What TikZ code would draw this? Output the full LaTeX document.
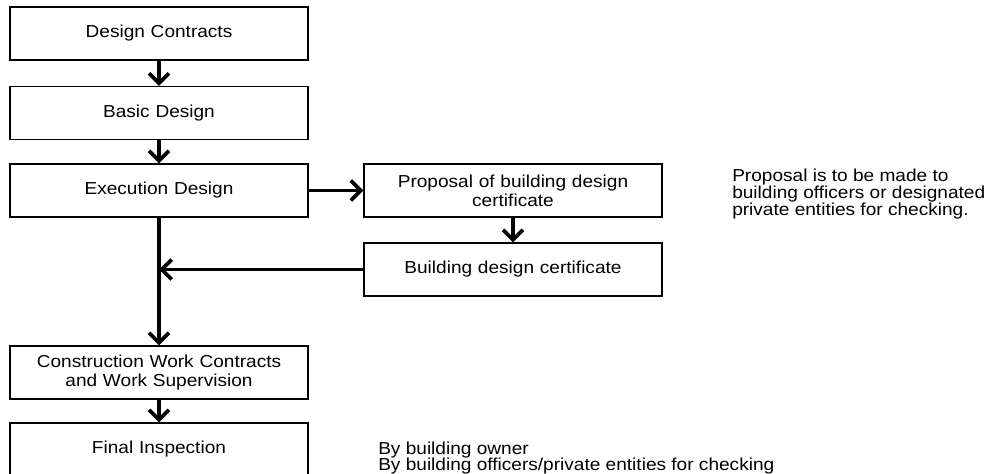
\documentclass[tikz,border=0pt]{standalone}
\usepackage{fontspec}
\setmainfont{Liberation Sans}[FakeStretch=1.1]
\usetikzlibrary{arrows.meta}
\newcommand{\tightlines}{\lineskiplimit=-20pt\relax}

\begin{document}
\begin{tikzpicture}[x=0.75pt,y=0.75pt,yscale=-1,xscale=1,
    stagebox/.style={draw, line width=0.8pt, minimum width=223.5pt, minimum height=39.75pt, inner sep=0pt, text width=215pt, align=center, font=\fontsize{13}{14.5}\selectfont\tightlines},
    notetext/.style={anchor=west, inner sep=0pt, align=left, font=\fontsize{13}{12.5}\selectfont\tightlines},
    flow/.style={line width=2.8pt, -{Straight Barb[length=7.5pt,width=15pt]}}]
    %set diagram frame: 991 x 474
    \useasboundingbox (0,0) rectangle (991,474);

    % Text Node
    \node [stagebox] (dc) at (159,33.5) {Design Contracts};
    % Text Node
    \node [stagebox] (bd) at (159,113) {Basic Design};
    % Text Node
    \node [stagebox] (ed) at (159,190.5) {Execution Design};
    % Text Node
    \node [stagebox] (prop) at (513,190.5) {Proposal of building design\\certificate};
    % Text Node
    \node [stagebox] (bdc) at (513,269.5) {Building design certificate};
    % Text Node
    \node [stagebox] (cwc) at (159,372.5) {Construction Work Contracts\\and Work Supervision};
    % Text Node
    \node [stagebox] (fi) at (159,449.5) {Final Inspection};

    % Text Node
    \node [notetext] (propnote) at (732,194) {Proposal is to be made to\\building officers or designated\\private entities for checking.};
    % Text Node
    \node [notetext] (bynote) at (378,458) {By building owner\\By building officers/private entities for checking};

    %Straight Lines
    \draw [flow] (dc.south) -- (bd.north);
    \draw [flow] (bd.south) -- (ed.north);
    \draw [flow] (ed.east) -- (prop.west);
    \draw [flow] (prop.south) -- (bdc.north);
    \draw [flow] (ed.south) -- (cwc.north);
    \draw [flow] (cwc.south) -- (fi.north);
    %Straight Lines
    \coordinate (join) at (ed.south |- bdc.west);
    \draw [flow] (bdc.west) -- (join);

\end{tikzpicture}
\end{document}
